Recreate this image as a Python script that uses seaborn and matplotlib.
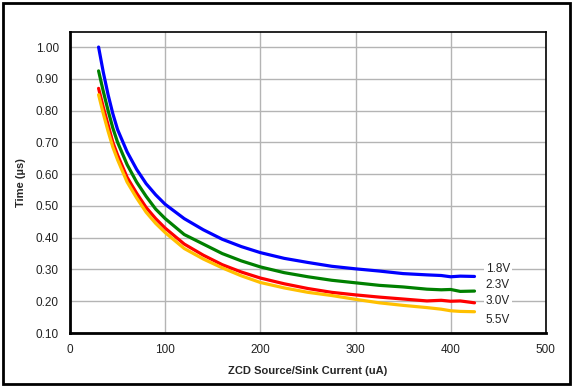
import numpy as np
import pandas as pd
import matplotlib.pyplot as plt
import seaborn as sns
from matplotlib.patches import Rectangle

# ZCD source/sink current (uA)
current = [30, 35, 40, 45, 50, 60, 70, 80, 90, 100, 120, 140, 160, 180, 200,
           225, 250, 275, 300, 325, 350, 375, 390, 400, 410, 425]

# response time (us) per supply voltage
t_18 = [1.00, 0.92, 0.85, 0.79, 0.74, 0.67, 0.615, 0.57, 0.535, 0.505, 0.46,
        0.425, 0.395, 0.372, 0.353, 0.335, 0.322, 0.31, 0.302, 0.295, 0.287,
        0.283, 0.281, 0.277, 0.279, 0.278]
t_23 = [0.925, 0.86, 0.80, 0.745, 0.70, 0.63, 0.575, 0.53, 0.49, 0.46, 0.41,
        0.38, 0.35, 0.327, 0.308, 0.29, 0.277, 0.266, 0.258, 0.25, 0.245,
        0.238, 0.236, 0.237, 0.231, 0.232]
t_30 = [0.87, 0.81, 0.755, 0.70, 0.66, 0.59, 0.54, 0.495, 0.46, 0.43, 0.38,
        0.345, 0.315, 0.292, 0.273, 0.255, 0.24, 0.228, 0.22, 0.213, 0.207,
        0.201, 0.203, 0.20, 0.201, 0.195]
t_55 = [0.85, 0.79, 0.735, 0.685, 0.645, 0.575, 0.525, 0.48, 0.445, 0.416,
        0.366, 0.333, 0.305, 0.28, 0.259, 0.242, 0.228, 0.218, 0.206, 0.195,
        0.187, 0.18, 0.175, 0.17, 0.168, 0.167]

voltages = ['1.8V', '2.3V', '3.0V', '5.5V']
label_y = [0.30, 0.25, 0.20, 0.14]
colors = ['#0000ff', '#008000', '#ff0000', '#ffc000']

df = pd.DataFrame({'current': current * 4,
                   'time': t_18 + t_23 + t_30 + t_55,
                   'vdd': np.repeat(voltages, len(current))})

sns.set_style('white')
plt.rcParams['font.family'] = ['Liberation Sans', 'DejaVu Sans']

fig = plt.figure(figsize=(5.74, 3.87), dpi=100)
ax = fig.add_axes([0.122, 0.1395, 0.829, 0.7775])

ax.grid(True, color='#b4b4b4', linewidth=1.0)
ax.set_axisbelow(True)

sns.lineplot(data=df, x='current', y='time', hue='vdd', palette=colors,
             linewidth=2.3, legend=False, ax=ax, zorder=3)

for v, y in zip(voltages, label_y):
    ax.text(437, y, v, fontsize=8.5, va='center', ha='left', color='#222222',
            bbox=dict(facecolor='white', edgecolor='none', pad=1.5), zorder=4)

ax.set_xlim(0, 500)
ax.set_ylim(0.10, 1.047)
ax.set_xticks([0, 100, 200, 300, 400, 500])
ax.set_yticks(np.arange(0.10, 1.01, 0.10))
ax.set_yticklabels([f'{v:.2f}' for v in np.arange(0.10, 1.01, 0.10)])
ax.tick_params(labelsize=8.5, length=0, pad=8, colors='#222222')

ax.set_xlabel('ZCD Source/Sink Current (uA)', fontsize=8, fontweight='bold', labelpad=7)
ax.set_ylabel('Time (µs)', fontsize=8, fontweight='bold', labelpad=7)

for side in ['left', 'bottom']:
    ax.spines[side].set_linewidth(2.0)
    ax.spines[side].set_color('black')
for side in ['top', 'right']:
    ax.spines[side].set_linewidth(1.2)
    ax.spines[side].set_color('black')

fig.patches.append(Rectangle((0.006, 0.008), 0.987, 0.984, transform=fig.transFigure,
                             fill=False, edgecolor='black', linewidth=2.0))

fig.savefig('out.png', dpi=100)
